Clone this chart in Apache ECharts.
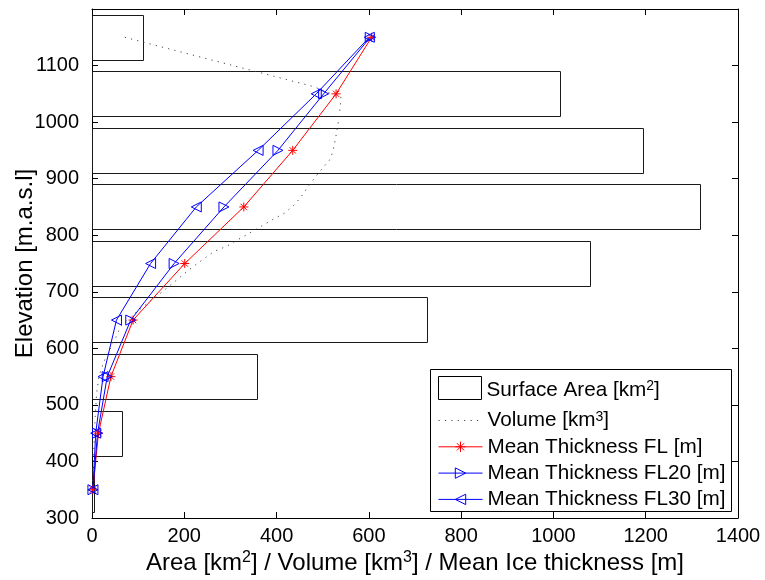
<!DOCTYPE html>
<html>
<head>
<meta charset="utf-8">
<script src="https://cdn.jsdelivr.net/npm/echarts@6/dist/echarts.min.js"></script>
<style>
  html, body { margin: 0; padding: 0; background: #fff; }
  #chart { width: 765px; height: 580px; }
</style>
</head>
<body>
<div id="chart"></div>
<script>
// Elevation bands: centre of each 100 m band [m a.s.l.]
const bandElevation = [350, 450, 550, 650, 750, 850, 950, 1050, 1150];
// Glacier surface area per band [km²]
const surfaceArea = [4, 65, 357, 725, 1080, 1318, 1195, 1015, 110];
// Mean ice thickness per band [m]
const thicknessFL   = [2, 14, 41, 89, 201, 329, 435, 529, 606];
const thicknessFL20 = [2, 12, 33, 84, 178, 286, 403, 502, 603];
const thicknessFL30 = [2, 8, 24, 53, 127, 226, 360, 486, 601];
// Ice volume profile along elevation
const volumeElevation = [1150, 1063, 1043, 1020, 996, 972, 948, 933, 919, 901, 881, 872, 854, 839, 828, 816, 804, 792, 780, 772, 757, 742, 730, 705, 680, 660, 640, 620, 600, 575, 550, 520, 480, 440, 400, 350];
const volume          = [71, 479, 540, 537, 533, 528, 522, 515, 500, 482, 464, 457, 439, 417, 392, 367, 342, 316, 291, 266, 240, 215, 197, 160, 121, 90, 63, 52, 40, 25, 15, 10, 7, 5, 3, 1];
// Axis ranges: [min, max, tick interval]
const xRange = [0, 1400, 200];
const yRange = [300, 1200, 100];

const FONT = 'Liberation Sans, Arial, Helvetica, sans-serif';
const BAR_HALF = 40; // half height of an area bar, in metres of elevation

const pairs = (xs, ys) => xs.map((x, i) => [x, ys[i]]);

const supRich = {
  sup: { fontSize: 14, lineHeight: 10, verticalAlign: 'top', fontFamily: FONT, color: '#000' }
};
const supRichTitle = {
  sup: { fontSize: 16, lineHeight: 10, verticalAlign: 'top', fontFamily: FONT, color: '#000' }
};

const asterisk = 'path://M5,0V10M0,5H10M1.5,1.5L8.5,8.5M1.5,8.5L8.5,1.5';

const chart = echarts.init(document.getElementById('chart'), null, { renderer: 'canvas' });

const axisCommon = {
  axisLine: { show: true, onZero: false, lineStyle: { color: '#000', width: 1 } },
  axisTick: { show: true, inside: true, length: 6, lineStyle: { color: '#000', width: 1 } },
  splitLine: { show: false }
};

const thicknessLegendLabels = {
  'Volume': 'Volume [km{sup|3}]',
  'FL': 'Mean Thickness FL [m]',
  'FL20': 'Mean Thickness FL20 [m]',
  'FL30': 'Mean Thickness FL30 [m]'
};

chart.setOption({
  animation: false,
  backgroundColor: '#fff',
  textStyle: { fontFamily: FONT },
  grid: { left: 92, right: 27, top: 9, bottom: 62, containLabel: false, outerBoundsMode: 'none' },
  xAxis: [
    Object.assign({
      type: 'value', position: 'bottom',
      min: xRange[0], max: xRange[1], interval: xRange[2],
      axisLabel: { fontSize: 20, color: '#000', margin: 8, fontFamily: FONT, formatter: v => String(v) },
      name: 'Area [km{sup|2}] / Volume [km{sup|3}] / Mean Ice thickness [m]',
      nameLocation: 'middle', nameGap: 32, nameMoveOverlap: false,
      nameTextStyle: { fontSize: 24, color: '#000', fontFamily: FONT, lineHeight: 26, rich: supRichTitle }
    }, axisCommon),
    Object.assign({
      type: 'value', position: 'top',
      min: xRange[0], max: xRange[1], interval: xRange[2],
      axisLabel: { show: false }
    }, axisCommon)
  ],
  yAxis: [
    Object.assign({
      type: 'value', position: 'left',
      min: yRange[0], max: yRange[1], interval: yRange[2],
      axisLabel: {
        fontSize: 20, color: '#000', margin: 13, fontFamily: FONT,
        formatter: v => (v >= yRange[1] ? '' : String(v))
      },
      name: 'Elevation [m.a.s.l]',
      nameLocation: 'middle', nameGap: 55, nameMoveOverlap: false,
      nameTextStyle: { fontSize: 24, color: '#000', fontFamily: FONT }
    }, axisCommon),
    Object.assign({
      type: 'value', position: 'right',
      min: yRange[0], max: yRange[1], interval: yRange[2],
      axisLabel: { show: false }
    }, axisCommon)
  ],
  graphic: [{
    type: 'rect', z: 3,
    shape: { x: 430.5, y: 369.5, width: 301, height: 142 },
    style: { fill: '#fff', stroke: '#000', lineWidth: 1 }
  }],
  legend: [
    {
      z: 5, orient: 'vertical', left: 438, top: 375, padding: 0,
      itemWidth: 43, itemHeight: 23, selectedMode: false,
      textStyle: { fontSize: 20.7, color: '#000', fontFamily: FONT, lineHeight: 22, padding: [4, 0, 0, 0], rich: supRich },
      formatter: n => 'Surface Area [km{sup|2}]',
      data: [{ name: 'Surface Area', icon: 'rect',
               itemStyle: { color: '#fff', borderColor: '#000', borderWidth: 1 } }]
    },
    {
      z: 5, orient: 'vertical', left: 438, top: 410, padding: 0,
      itemWidth: 44, itemHeight: 13, itemGap: 5.3, selectedMode: false,
      lineStyle: { width: 1 },
      textStyle: { fontSize: 20.7, color: '#000', fontFamily: FONT, lineHeight: 20, rich: supRich },
      formatter: n => thicknessLegendLabels[n],
      data: [
        { name: 'Volume', itemStyle: { opacity: 0 } },
        { name: 'FL', itemStyle: { color: 'none', borderColor: '#ff0000', borderWidth: 1 } },
        { name: 'FL20', itemStyle: { color: 'none', borderColor: '#0000ff', borderWidth: 1 } },
        { name: 'FL30', itemStyle: { color: 'none', borderColor: '#0000ff', borderWidth: 1 } }
      ]
    }
  ],
  series: [
    {
      name: 'Surface Area',
      type: 'custom',
      xAxisIndex: 0, yAxisIndex: 0,
      data: pairs(surfaceArea, bandElevation),
      itemStyle: { color: 'none', borderColor: '#000', borderWidth: 1 },
      renderItem: (params, api) => {
        const area = api.value(0);
        const elev = api.value(1);
        const p0 = api.coord([0, elev + BAR_HALF]);
        const p1 = api.coord([area, elev - BAR_HALF]);
        return {
          type: 'rect',
          shape: { x: Math.round(p0[0]) + 0.5, y: Math.round(p0[1]) + 0.5,
                   width: Math.round(p1[0] - p0[0]), height: Math.round(p1[1] - p0[1]) },
          style: { fill: 'none', stroke: '#1a1a1a', lineWidth: 1 }
        };
      }
    },
    {
      name: 'Volume',
      type: 'line',
      data: pairs(volume, volumeElevation),
      symbol: 'none',
      itemStyle: { color: '#444' },
      lineStyle: { color: '#444', width: 1, type: [1.2, 5.2] }
    },
    {
      name: 'FL',
      type: 'line',
      data: pairs(thicknessFL, bandElevation),
      symbol: asterisk, symbolSize: 9,
      itemStyle: { color: 'none', borderColor: '#ff0000', borderWidth: 1 },
      lineStyle: { color: '#ff0000', width: 1 }
    },
    {
      name: 'FL20',
      type: 'line',
      data: pairs(thicknessFL20, bandElevation),
      symbol: 'triangle', symbolSize: 10, symbolRotate: -90,
      itemStyle: { color: 'none', borderColor: '#0000ff', borderWidth: 1 },
      lineStyle: { color: '#0000ff', width: 1 }
    },
    {
      name: 'FL30',
      type: 'line',
      data: pairs(thicknessFL30, bandElevation),
      symbol: 'triangle', symbolSize: 10, symbolRotate: 90,
      itemStyle: { color: 'none', borderColor: '#0000ff', borderWidth: 1 },
      lineStyle: { color: '#0000ff', width: 1 }
    }
  ]
});
</script>
</body>
</html>
